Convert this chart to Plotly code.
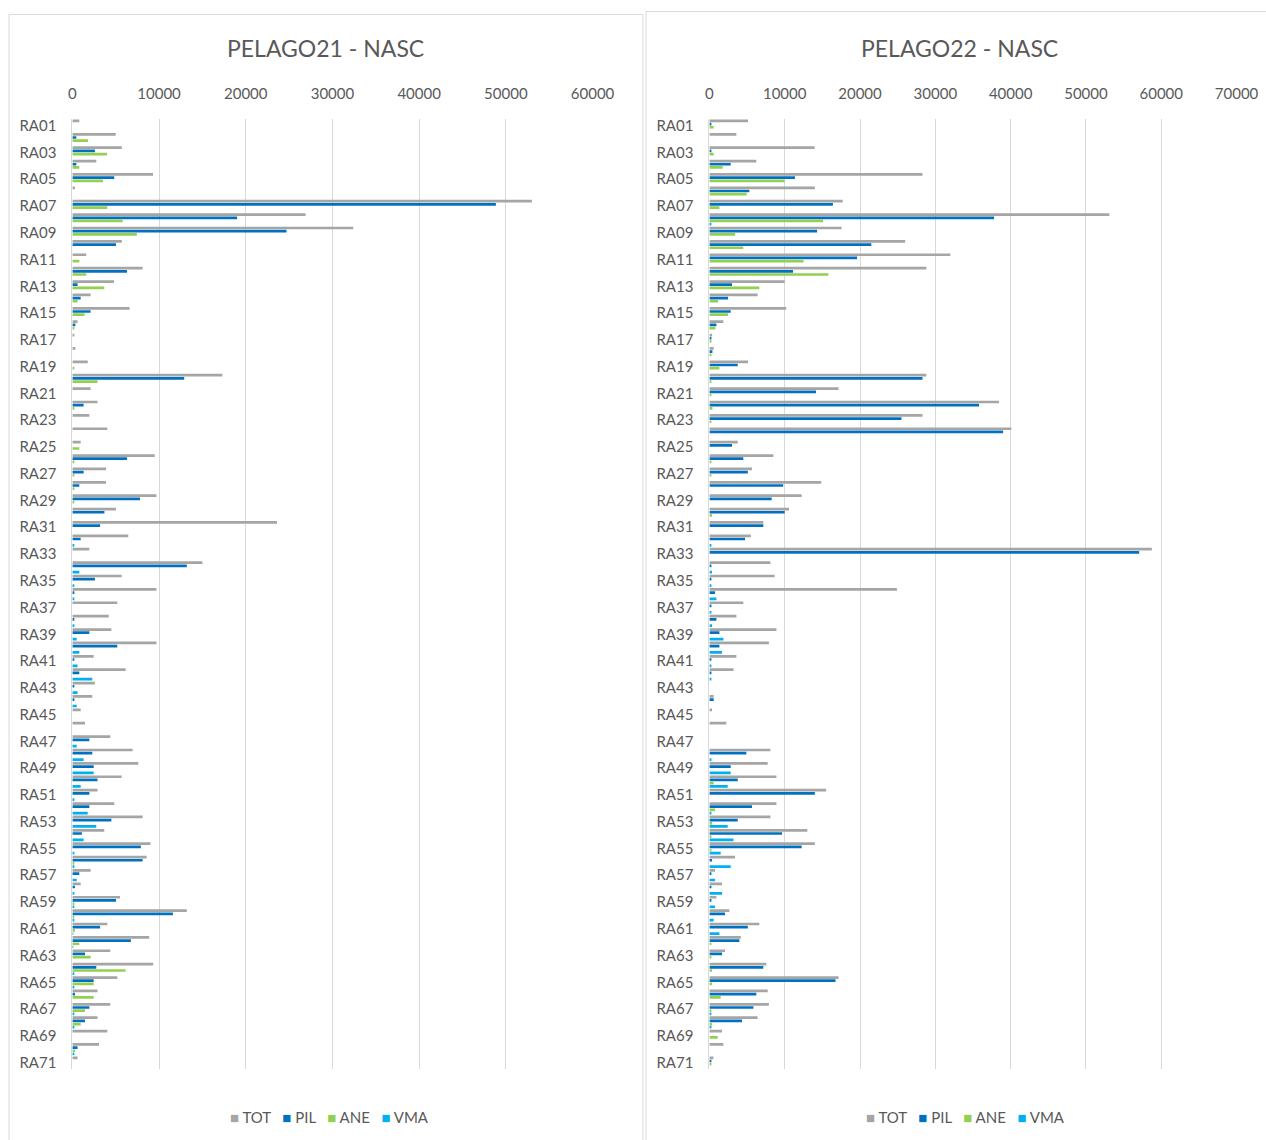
import plotly.graph_objects as go

# Station codes
stations = [f"RA{i:02d}" for i in range(1, 72)]

# PELAGO21 NASC by station
tot21 = [800, 5000, 5700, 2760, 9300, 300, 53000, 26900, 32400, 5700,
         1600, 8100, 4800, 2100, 6600, 600, 150, 350, 1770, 17300,
         2100, 2900, 1960, 4030, 960, 9500, 3880, 3880, 9700, 5030,
         23600, 6450, 1960, 15000, 5680, 9700, 5180, 4200, 4500, 9700,
         2460, 6140, 2600, 2300, 960, 1460, 4370, 6950, 7600, 5680,
         2900, 4830, 8100, 3680, 9000, 8560, 2100, 960, 5500, 13200,
         4030, 8860, 4370, 9320, 5180, 2900, 4370, 2900, 4030, 3070,
         600]
pil21 = [0, 460, 2600, 460, 4830, 0, 48850, 19000, 24700, 5030,
         0, 6300, 600, 960, 2100, 350, 0, 0, 0, 12900,
         0, 1300, 0, 0, 0, 6300, 1300, 800, 7800, 3700,
         3200, 960, 0, 13200, 2600, 150, 0, 150, 1960, 5180,
         150, 800, 150, 150, 0, 0, 1960, 2300, 2460, 2900,
         1960, 1960, 4500, 1100, 7900, 8100, 800, 300, 5030, 11600,
         3200, 6750, 1460, 2760, 2460, 300, 1960, 1460, 0, 600,
         0]
ane21 = [0, 1800, 4000, 800, 3530, 0, 4030, 5800, 7440, 0,
         800, 1600, 3680, 600, 1400, 200, 0, 0, 200, 2900,
         0, 200, 0, 0, 800, 200, 200, 150, 200, 0,
         0, 0, 0, 0, 0, 0, 0, 0, 0, 0,
         0, 0, 0, 0, 0, 0, 0, 0, 0, 0,
         0, 0, 0, 0, 0, 150, 0, 0, 150, 150,
         300, 800, 2100, 6140, 2460, 2460, 1460, 960, 0, 300,
         0]
vma21 = [0, 0, 0, 0, 0, 0, 0, 0, 0, 0,
         0, 0, 0, 0, 0, 0, 0, 0, 0, 0,
         0, 0, 0, 0, 0, 0, 0, 0, 0, 0,
         0, 150, 0, 800, 150, 150, 0, 150, 500, 800,
         600, 2300, 600, 500, 0, 0, 500, 1300, 2460, 960,
         150, 1770, 2760, 1300, 150, 150, 500, 150, 150, 150,
         100, 100, 0, 150, 150, 0, 150, 150, 0, 150,
         0]

# PELAGO22 NASC by station
tot22 = [5130, 3580, 13970, 6230, 28300, 14000, 17700, 53100, 17550, 26000,
         32000, 28800, 10000, 6400, 10200, 1860, 350, 570, 5130, 28800,
         17150, 38460, 28300, 40100, 3760, 8500, 5660, 14850, 12250, 10570,
         7160, 5500, 58750, 8100, 8660, 24900, 4500, 3580, 8900, 7900,
         3580, 3200, 0, 570, 350, 2250, 0, 8100, 7740, 8900,
         15500, 8900, 8100, 13000, 14000, 3400, 750, 1680, 930, 2650,
         6630, 4160, 2080, 7560, 17150, 7740, 7900, 6400, 1680, 1860,
         530]
pil22 = [180, 0, 180, 2830, 11360, 5300, 16400, 37800, 14300, 21500,
         19600, 11100, 3000, 2480, 2830, 930, 180, 400, 3760, 28300,
         14150, 35800, 25500, 39000, 3000, 4500, 5100, 9800, 8270, 10000,
         7160, 4730, 57070, 180, 180, 750, 180, 930, 1330, 1330,
         180, 180, 0, 570, 0, 0, 0, 4900, 2830, 3760,
         14000, 5660, 3760, 9640, 12250, 350, 180, 180, 180, 2080,
         5100, 3980, 1680, 7160, 16750, 6230, 5840, 4330, 0, 0,
         180]
ane22 = [570, 0, 570, 1770, 10000, 4950, 1330, 15100, 3400, 4500,
         12500, 15800, 6630, 1150, 2480, 800, 180, 180, 1330, 180,
         180, 400, 180, 0, 0, 180, 180, 0, 0, 350,
         0, 0, 0, 0, 0, 0, 0, 0, 0, 0,
         0, 0, 0, 0, 0, 0, 0, 0, 0, 570,
         0, 750, 350, 180, 180, 0, 0, 0, 0, 0,
         0, 180, 180, 350, 350, 1500, 180, 350, 1100, 0,
         180]
vma22 = [0, 0, 0, 0, 0, 0, 0, 180, 0, 0,
         0, 0, 0, 0, 0, 0, 0, 0, 0, 0,
         0, 0, 0, 0, 0, 0, 0, 0, 0, 0,
         0, 180, 0, 350, 180, 930, 180, 350, 1860, 1680,
         180, 180, 0, 0, 0, 0, 0, 180, 2830, 2430,
         0, 180, 2430, 3200, 1500, 2830, 750, 1680, 750, 570,
         1330, 0, 0, 0, 0, 0, 180, 180, 0, 0,
         0]

series_names = ["TOT", "PIL", "ANE", "VMA"]
series_colors = ["#A5A5A5", "#0070C0", "#92D050", "#00B0F0"]

W, H = 1266, 1140
FONT = "Lato"
TXT = "#595959"
GRID = "#D9D9D9"


def px(x):
    return x / W


def py(y):
    return 1 - y / H


fig = go.Figure()

for (xa, ya), data in [(("x", "y"), [tot21, pil21, ane21, vma21]),
                       (("x2", "y2"), [tot22, pil22, ane22, vma22])]:
    for name, color, vals in zip(series_names, series_colors, data):
        fig.add_trace(go.Bar(
            y=stations, x=vals, name=name, orientation="h",
            marker=dict(color=color, line=dict(width=0)),
            xaxis=xa, yaxis=ya, showlegend=False,
        ))

y_dom = [py(1071), py(116.5)]


def xaxis_cfg(dom, rmax, anchor):
    return dict(
        domain=dom, range=[0, rmax], side="top", anchor=anchor,
        tickmode="array", tickvals=list(range(0, rmax + 1, 10000)),
        tickformat="d", showgrid=True, gridcolor=GRID, gridwidth=1,
        zeroline=False, showline=False,
        ticks="outside", ticklen=13, tickcolor="rgba(0,0,0,0)",
        tickfont=dict(family=FONT, size=15, color=TXT),
        fixedrange=True,
    )


def yaxis_cfg(anchor):
    return dict(
        domain=y_dom, type="category", categoryorder="array",
        categoryarray=stations, range=[70.5, -0.5], anchor=anchor,
        tickmode="array", tickvals=stations[::2],
        showgrid=False, showline=True, linecolor=GRID, linewidth=1,
        ticks="outside", ticklen=12, tickcolor="rgba(0,0,0,0)",
        tickfont=dict(family=FONT, size=15, color=TXT),
        fixedrange=True,
    )


fig.update_layout(
    width=W, height=H, autosize=False,
    margin=dict(l=0, r=0, t=0, b=0),
    paper_bgcolor="white", plot_bgcolor="white",
    barmode="group", bargap=0.05, bargroupgap=0.15,
    xaxis=xaxis_cfg([px(69.8), px(600.9)], 60000, "y"),
    yaxis=yaxis_cfg("x"),
    xaxis2=xaxis_cfg([px(720.2), px(1258.4)], 70000, "y2"),
    yaxis2=yaxis_cfg("x2"),
    font=dict(family=FONT, color=TXT),
)

# Panel frames
fig.add_shape(type="rect", xref="paper", yref="paper",
              x0=px(5.1), x1=px(652.4), y0=py(1160), y1=py(11.5),
              line=dict(color=GRID, width=1), layer="below")
fig.add_shape(type="rect", xref="paper", yref="paper",
              x0=px(655.5), x1=px(1300), y0=py(1160), y1=py(8.5),
              line=dict(color=GRID, width=1), layer="below")

# Panel titles
for title, cx in [("PELAGO21 - NASC", 328.7), ("PELAGO22 - NASC", 976.0)]:
    fig.add_annotation(text=title, xref="paper", yref="paper",
                       x=px(cx), y=py(45), showarrow=False,
                       xanchor="center", yanchor="middle",
                       font=dict(family=FONT, size=23, color=TXT))

# Series keys under each panel
key = "&nbsp;&nbsp;&nbsp;".join(
    f'<span style="color:{c}">■</span> {n}'
    for n, c in zip(series_names, series_colors))
for cx in [332.8, 981.2]:
    fig.add_annotation(text=key, xref="paper", yref="paper",
                       x=px(cx), y=py(1119), showarrow=False,
                       xanchor="center", yanchor="middle",
                       font=dict(family=FONT, size=15, color=TXT))

fig.write_html("out.html",
               config={"displayModeBar": False, "responsive": False})
